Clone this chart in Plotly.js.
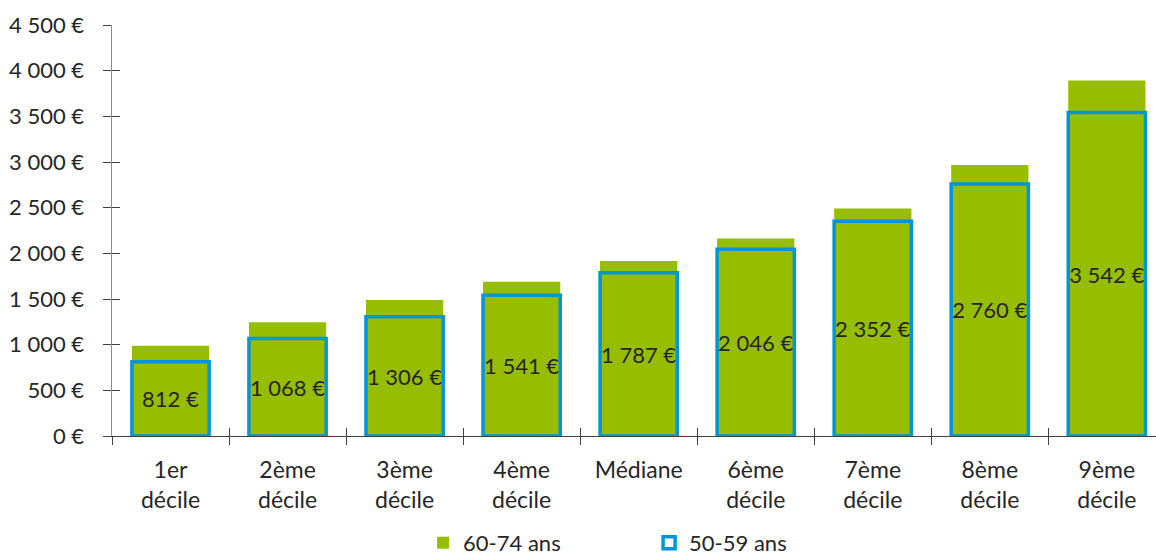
<!DOCTYPE html>
<html><head><meta charset="utf-8">
<script src="https://cdn.plot.ly/plotly-3.0.1.min.js"></script>
<style>html,body{margin:0;padding:0;background:#fff}#chart{width:1156px;height:560px}</style>
</head><body><div id="chart"></div>
<script>
const categories = ["1er<br>décile","2ème<br>décile","3ème<br>décile","4ème<br>décile","Médiane","6ème<br>décile","7ème<br>décile","8ème<br>décile","9ème<br>décile"];
const seriesNames = ["60-74 ans","50-59 ans"];
const values6074 = [987, 1246, 1490, 1690, 1915, 2162, 2492, 2966, 3892];
const values5059 = [812, 1068, 1306, 1541, 1787, 2046, 2352, 2760, 3542];
const yTickVals = [0,500,1000,1500,2000,2500,3000,3500,4000,4500];
const yTickLabels = ["0 €","500 €","1 000 €","1 500 €","2 000 €","2 500 €","3 000 €","3 500 €","4 000 €","4 500 €"];

const FONT = "Lato, 'Noto Sans', sans-serif";
const green = "#97bd00";
const blue = "#0096d6";

const traces = [
  {type:"bar", x:categories, y:values6074, name:seriesNames[0],
   marker:{color:green, line:{width:0}}, width:0.66, hoverinfo:"none"},
  {type:"bar", x:categories, y:values5059, name:seriesNames[1],
   marker:{color:"rgba(0,0,0,0)", line:{color:blue, width:3.5}}, width:0.66,
   texttemplate:"%{y:,.0f} €", textposition:"inside", insidetextanchor:"middle",
   constraintext:"none", textangle:0,
   textfont:{family:FONT, size:22, color:"#262626"}, hoverinfo:"none"},
  {type:"bar", x:categories, y:values5059.map(()=>null), xaxis:"x2", yaxis:"y2", showlegend:false, hoverinfo:"none"}
];

const layout = {
  width:1156, height:560,
  margin:{l:112, r:0, t:25, b:124},
  paper_bgcolor:"#fff", plot_bgcolor:"#fff",
  barmode:"overlay",
  separators:", ",
  font:{family:FONT, size:22, color:"#262626"},
  showlegend:true,
  legend:{orientation:"h", x:0.366, xref:"container", xanchor:"left",
          y:0.068, yref:"container", yanchor:"top",
          font:{family:FONT, size:22, color:"#262626"},
          entrywidth:181, entrywidthmode:"pixels", itemwidth:30, traceorder:"normal"},
  xaxis:{type:"category", range:[-0.5, 8.42], showgrid:false, zeroline:false, automargin:false,
         showline:true, linecolor:"#404040", linewidth:1.2,
         ticks:"outside", ticklen:8, tickcolor:"#404040", tickson:"boundaries",
         tickfont:{family:FONT, size:23, color:"#262626"}, ticklabelstandoff:13},
  yaxis:{range:[0,4500], tickvals:yTickVals, ticktext:yTickLabels, automargin:false,
         showgrid:false, zeroline:false, showline:true, linecolor:"#8c8c8c", linewidth:1.5,
         ticks:"outside", ticklen:8, tickcolor:"#404040",
         tickfont:{family:FONT, size:22, color:"#262626"}, ticklabelstandoff:14},
  xaxis2:{type:"category", overlaying:"x", range:[-0.5, 8.42], showgrid:false, zeroline:false,
          showline:false, ticks:"inside", ticklen:8, tickcolor:"#404040", tickson:"boundaries",
          showticklabels:false, matches:"x"},
  yaxis2:{overlaying:"y", range:[0,4500], tickvals:yTickVals, showgrid:false, zeroline:false,
          showline:false, ticks:"inside", ticklen:8, tickcolor:"#404040", showticklabels:false}
};

Plotly.newPlot("chart", traces, layout, {displayModeBar:false, staticPlot:true});
</script></body></html>
